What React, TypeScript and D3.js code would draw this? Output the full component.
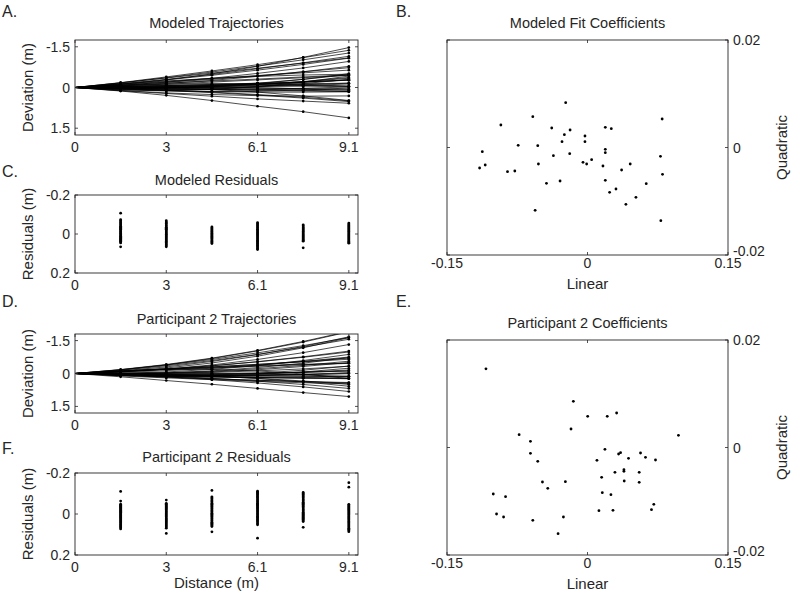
import React from 'react';
import * as d3 from 'd3';

// distances along the path (m) and axis ticks
const distances = [1.524, 3.048, 4.572, 6.096, 7.62, 9.144];
const distanceTicks = [0, 3.048, 6.096, 9.144];
const distanceTickLabels = ['0', '3', '6.1', '9.1'];
const deviationTicks = [-1.5, 0, 1.5];
const deviationTickLabels = ['-1.5', '0', '1.5'];
const residualTicks = [-0.2, 0, 0.2];
const residualTickLabels = ['-0.2', '0', '0.2'];
const linearTicks = [-0.15, 0, 0.15];
const linearTickLabels = ['-0.15', '0', '0.15'];
const quadraticTicks = [0.02, 0, -0.02];
const quadraticTickLabels = ['0.02', '0', '-0.02'];

// B. modeled fit coefficients
const modeledLinear = [-0.1152, -0.1123, -0.1092, -0.0925, -0.0854, -0.0776, -0.074, -0.0584, -0.0559, -0.0531, -0.0524, -0.0438, -0.0382, -0.0364, -0.0293, -0.0272, -0.0247, -0.0233, -0.019, -0.0186, -0.0048, -0.0027, -0.0027, -0.0009, 0.0044, 0.0165, 0.019, 0.019, 0.019, 0.019, 0.0236, 0.0254, 0.0304, 0.0364, 0.041, 0.0456, 0.0517, 0.0627, 0.0779, 0.0783, 0.0797, 0.0801];
const modeledQuadratic = [-0.00381, -0.00078, -0.00326, 0.00419, -0.0045, -0.00437, 0.0004, 0.00574, -0.01169, 0.00034, -0.00307, -0.00667, 0.00363, -0.00152, -0.00623, 0.00109, 0.00239, 0.00834, -0.00115, 0.00326, -0.00276, 0.00214, 0.00109, -0.00307, -0.00226, -0.00344, -0.00034, -0.00096, -0.00611, 0.00375, -0.00834, 0.0035, -0.00772, -0.00419, -0.01057, -0.00307, -0.00927, -0.00673, -0.00164, -0.01361, 0.0053, -0.00499];

// E. participant 2 coefficients
const p2Linear = [-0.1084, -0.1006, -0.0971, -0.0896, -0.0875, -0.073, -0.0609, -0.0609, -0.0584, -0.0531, -0.0481, -0.0424, -0.0314, -0.0257, -0.0236, -0.0176, -0.0151, 0.0002, 0.0101, 0.0122, 0.0151, 0.0158, 0.0186, 0.0211, 0.025, 0.0272, 0.0293, 0.0311, 0.0332, 0.0353, 0.0389, 0.0389, 0.0392, 0.0438, 0.0552, 0.0552, 0.0566, 0.0619, 0.0683, 0.0708, 0.0726, 0.0971];
const p2Quadratic = [0.01464, -0.00865, -0.01237, -0.01293, -0.00915, 0.00239, 0.00115, -0.00109, -0.01355, -0.00257, -0.00642, -0.0076, -0.01603, -0.01293, -0.00636, 0.00344, 0.00859, 0.0058, -0.00239, -0.01175, -0.00555, -0.0084, -0.00034, 0.0058, -0.00878, -0.01169, -0.00462, 0.00642, -0.00121, -0.00096, -0.00412, -0.00443, -0.00623, -0.00202, -0.00462, -0.00648, -0.00102, -0.00183, -0.01156, -0.01057, -0.00233, 0.00227];

// A. modeled trajectories, deviation (m) at each distance
const modeledTrajectories = [
  [-0.18, -0.39, -0.61, -0.84, -1.1, -1.37],
  [-0.17, -0.35, -0.53, -0.71, -0.9, -1.09],
  [-0.17, -0.36, -0.57, -0.79, -1.02, -1.27],
  [-0.13, -0.24, -0.34, -0.41, -0.46, -0.49],
  [-0.14, -0.3, -0.48, -0.69, -0.91, -1.15],
  [-0.13, -0.28, -0.45, -0.64, -0.85, -1.08],
  [-0.11, -0.22, -0.33, -0.44, -0.54, -0.64],
  [-0.08, -0.12, -0.15, -0.14, -0.11, -0.05],
  [-0.11, -0.28, -0.5, -0.78, -1.11, -1.47],
  [-0.08, -0.16, -0.24, -0.31, -0.39, -0.46],
  [-0.09, -0.19, -0.3, -0.43, -0.58, -0.73],
  [-0.08, -0.2, -0.34, -0.52, -0.72, -0.96],
  [-0.05, -0.08, -0.1, -0.1, -0.08, -0.05],
  [-0.06, -0.12, -0.2, -0.28, -0.36, -0.45],
  [-0.06, -0.15, -0.26, -0.41, -0.58, -0.78],
  [-0.04, -0.07, -0.1, -0.12, -0.14, -0.16],
  [-0.03, -0.05, -0.06, -0.06, -0.05, -0.03],
  [-0.02, 0.01, 0.07, 0.17, 0.31, 0.48],
  [-0.03, -0.07, -0.11, -0.16, -0.21, -0.27],
  [-0.02, -0.03, -0.02, 0.01, 0.05, 0.1],
  [-0.01, -0.04, -0.08, -0.14, -0.2, -0.28],
  [0.0, 0.01, 0.03, 0.06, 0.1, 0.15],
  [0.0, 0.0, 0.01, 0.02, 0.04, 0.06],
  [-0.01, -0.03, -0.07, -0.12, -0.19, -0.27],
  [0.0, -0.01, -0.03, -0.06, -0.1, -0.16],
  [0.02, 0.02, 0.0, -0.03, -0.07, -0.13],
  [0.03, 0.05, 0.08, 0.11, 0.13, 0.15],
  [0.03, 0.05, 0.07, 0.08, 0.09, 0.09],
  [0.01, 0.0, -0.04, -0.11, -0.21, -0.34],
  [0.04, 0.09, 0.17, 0.26, 0.36, 0.49],
  [0.02, 0.0, -0.06, -0.16, -0.3, -0.47],
  [0.05, 0.11, 0.19, 0.28, 0.39, 0.52],
  [0.03, 0.02, -0.02, -0.1, -0.22, -0.37],
  [0.05, 0.07, 0.08, 0.06, 0.03, -0.02],
  [0.04, 0.03, -0.03, -0.14, -0.3, -0.51],
  [0.06, 0.11, 0.15, 0.17, 0.17, 0.16],
  [0.06, 0.07, 0.04, -0.03, -0.14, -0.3],
  [0.08, 0.13, 0.15, 0.14, 0.09, 0.02],
  [0.12, 0.22, 0.32, 0.42, 0.5, 0.58],
  [0.09, 0.11, 0.07, -0.03, -0.2, -0.42],
  [0.13, 0.29, 0.48, 0.69, 0.89, 1.12],
  [0.11, 0.2, 0.26, 0.3, 0.32, 0.31],
];

// D. participant 2 trajectories
const p2Trajectories = [
  [-0.13, -0.19, -0.19, -0.12, 0.02, 0.23],
  [-0.17, -0.39, -0.64, -0.94, -1.27, -1.64],
  [-0.18, -0.41, -0.7, -1.05, -1.46, -1.92],
  [-0.17, -0.39, -0.68, -1.03, -1.43, -1.9],
  [-0.15, -0.35, -0.59, -0.87, -1.2, -1.56],
  [-0.11, -0.2, -0.28, -0.36, -0.42, -0.47],
  [-0.09, -0.18, -0.25, -0.33, -0.4, -0.46],
  [-0.1, -0.2, -0.3, -0.41, -0.53, -0.65],
  [-0.12, -0.3, -0.55, -0.86, -1.23, -1.67],
  [-0.09, -0.19, -0.3, -0.42, -0.55, -0.7],
  [-0.09, -0.21, -0.35, -0.53, -0.74, -0.98],
  [-0.08, -0.2, -0.35, -0.54, -0.76, -1.02],
  [-0.09, -0.25, -0.48, -0.79, -1.17, -1.63],
  [-0.07, -0.2, -0.39, -0.64, -0.95, -1.32],
  [-0.05, -0.13, -0.24, -0.38, -0.55, -0.75],
  [-0.02, -0.02, -0.01, 0.02, 0.07, 0.13],
  [0.0, 0.03, 0.11, 0.23, 0.38, 0.58],
  [0.01, 0.05, 0.12, 0.22, 0.34, 0.49],
  [0.01, 0.01, 0.0, -0.03, -0.06, -0.11],
  [-0.01, -0.07, -0.19, -0.36, -0.59, -0.87],
  [0.01, -0.01, -0.05, -0.12, -0.21, -0.33],
  [0.0, -0.03, -0.1, -0.22, -0.37, -0.56],
  [0.03, 0.05, 0.08, 0.1, 0.12, 0.14],
  [0.05, 0.12, 0.22, 0.35, 0.5, 0.68],
  [0.02, -0.01, -0.07, -0.17, -0.32, -0.5],
  [0.01, -0.03, -0.12, -0.27, -0.47, -0.73],
  [0.03, 0.05, 0.04, 0.01, -0.05, -0.12],
  [0.06, 0.15, 0.28, 0.43, 0.61, 0.82],
  [0.05, 0.09, 0.13, 0.16, 0.18, 0.2],
  [0.05, 0.1, 0.14, 0.18, 0.21, 0.24],
  [0.05, 0.08, 0.09, 0.08, 0.06, 0.01],
  [0.05, 0.08, 0.09, 0.07, 0.04, -0.01],
  [0.05, 0.06, 0.05, 0.01, -0.06, -0.16],
  [0.06, 0.12, 0.16, 0.19, 0.22, 0.23],
  [0.07, 0.13, 0.16, 0.17, 0.15, 0.12],
  [0.07, 0.11, 0.12, 0.1, 0.04, -0.04],
  [0.08, 0.16, 0.24, 0.31, 0.37, 0.43],
  [0.09, 0.17, 0.24, 0.31, 0.37, 0.41],
  [0.08, 0.1, 0.07, -0.01, -0.15, -0.34],
  [0.08, 0.12, 0.1, 0.04, -0.07, -0.24],
  [0.11, 0.2, 0.28, 0.36, 0.42, 0.47],
  [0.15, 0.32, 0.49, 0.68, 0.87, 1.05],
];

// C. modeled residuals, one list per distance
const modeledResiduals = [
  [-0.107, -0.073, -0.068, -0.062, -0.057, -0.051, -0.046, -0.04, -0.035, -0.03, -0.025, -0.02, -0.015, -0.011, -0.006, -0.002, 0.003, 0.008, 0.012, 0.017, 0.022, 0.027, 0.032, 0.037, 0.041, 0.046, 0.066],
  [-0.068, -0.062, -0.057, -0.052, -0.046, -0.041, -0.035, -0.03, -0.025, -0.02, -0.015, -0.01, -0.005, 0.0, 0.004, 0.009, 0.014, 0.019, 0.024, 0.029, 0.034, 0.039, 0.044, 0.05, 0.055, 0.06, 0.066],
  [-0.036, -0.031, -0.026, -0.021, -0.016, -0.011, -0.006, -0.002, 0.003, 0.008, 0.013, 0.018, 0.023, 0.029, 0.034, 0.039, 0.044, 0.049],
  [-0.058, -0.053, -0.047, -0.042, -0.036, -0.031, -0.025, -0.02, -0.015, -0.01, -0.005, 0.0, 0.005, 0.01, 0.016, 0.021, 0.026, 0.032, 0.037, 0.043, 0.048, 0.054, 0.059, 0.064, 0.07, 0.075, 0.08],
  [-0.047, -0.042, -0.036, -0.031, -0.026, -0.021, -0.016, -0.011, -0.006, -0.001, 0.004, 0.009, 0.014, 0.019, 0.024, 0.029, 0.033, 0.037, 0.071],
  [-0.056, -0.051, -0.046, -0.041, -0.036, -0.031, -0.026, -0.021, -0.016, -0.011, -0.006, -0.001, 0.004, 0.009, 0.014, 0.019, 0.024, 0.029, 0.034, 0.039, 0.043, 0.047],
];

// F. participant 2 residuals
const p2Residuals = [
  [-0.11, -0.063, -0.048, -0.043, -0.038, -0.033, -0.028, -0.023, -0.018, -0.013, -0.008, -0.003, 0.002, 0.007, 0.012, 0.017, 0.022, 0.027, 0.032, 0.037, 0.042, 0.047, 0.052, 0.057, 0.062, 0.067, 0.073],
  [-0.068, -0.052, -0.047, -0.042, -0.037, -0.032, -0.027, -0.022, -0.016, -0.011, -0.006, -0.001, 0.004, 0.009, 0.014, 0.019, 0.024, 0.029, 0.034, 0.039, 0.044, 0.049, 0.054, 0.059, 0.064, 0.069, 0.095],
  [-0.115, -0.084, -0.079, -0.074, -0.068, -0.063, -0.058, -0.052, -0.047, -0.042, -0.036, -0.031, -0.026, -0.02, -0.015, -0.01, -0.004, 0.001, 0.007, 0.012, 0.018, 0.023, 0.029, 0.034, 0.04, 0.045, 0.05, 0.056, 0.061, 0.087],
  [-0.111, -0.106, -0.101, -0.096, -0.09, -0.085, -0.08, -0.075, -0.069, -0.064, -0.059, -0.053, -0.048, -0.043, -0.037, -0.032, -0.027, -0.021, -0.016, -0.011, -0.005, 0.0, 0.005, 0.011, 0.016, 0.022, 0.027, 0.032, 0.037, 0.043, 0.048, 0.053, 0.118],
  [-0.105, -0.1, -0.095, -0.089, -0.084, -0.079, -0.073, -0.068, -0.063, -0.057, -0.052, -0.047, -0.041, -0.036, -0.031, -0.025, -0.02, -0.015, -0.009, -0.004, 0.001, 0.006, 0.011, 0.016, 0.021, 0.026, 0.032, 0.037, 0.065],
  [-0.153, -0.131, -0.047, -0.042, -0.037, -0.032, -0.027, -0.022, -0.017, -0.012, -0.007, -0.002, 0.003, 0.008, 0.013, 0.018, 0.023, 0.028, 0.034, 0.039, 0.044, 0.049, 0.054, 0.059, 0.064, 0.069, 0.074, 0.08, 0.086],
];

const FONT = '"Liberation Sans", Arial, Helvetica, sans-serif';
const INK = '#262626';

type Box = { x0: number; y0: number; x1: number; y1: number };

// box with inward ticks on all four sides, MATLAB style
const Frame = ({ box, x, y, xTicks, xLabels, yTicks, yLabels, xLabelDy, yLabelDy, yRight }: any) => (
  <g>
    <rect x={box.x0} y={box.y0} width={box.x1 - box.x0} height={box.y1 - box.y0} fill="none" stroke={INK} strokeWidth={0.9} />
    {xTicks.map((t: number, i: number) => (
      <g key={'x' + i}>
        <line x1={x(t)} x2={x(t)} y1={box.y1} y2={box.y1 - 3} stroke={INK} strokeWidth={0.8} />
        <line x1={x(t)} x2={x(t)} y1={box.y0} y2={box.y0 + 3} stroke={INK} strokeWidth={0.8} />
        <text x={x(t)} y={box.y1 + xLabelDy} textAnchor="middle" fontSize={14} fill={INK}>{xLabels[i]}</text>
      </g>
    ))}
    {yTicks.map((t: number, i: number) => (
      <g key={'y' + i}>
        <line x1={box.x0} x2={box.x0 + 3} y1={y(t)} y2={y(t)} stroke={INK} strokeWidth={0.8} />
        <line x1={box.x1} x2={box.x1 - 3} y1={y(t)} y2={y(t)} stroke={INK} strokeWidth={0.8} />
        <text
          x={yRight ? box.x1 + 5 : box.x0 - 5}
          y={y(t) + (yLabelDy ? yLabelDy[i] : 5)}
          textAnchor={yRight ? 'start' : 'end'}
          fontSize={14}
          fill={INK}
        >
          {yLabels[i]}
        </text>
      </g>
    ))}
  </g>
);

const PanelText = ({ letter, lx, ly, title, box, ty }: any) => (
  <g fill={INK}>
    <text x={lx} y={ly} fontSize={16}>{letter}</text>
    <text x={(box.x0 + box.x1) / 2} y={ty} textAnchor="middle" fontSize={14.5}>{title}</text>
  </g>
);

const YTitle = ({ x, y, label }: any) => (
  <text transform={`translate(${x},${y}) rotate(-90)`} textAnchor="middle" fontSize={15} fill={INK}>{label}</text>
);

const TrajectoryPanel = ({ id, box, data, ydomain }: { id: string; box: Box; data: number[][]; ydomain: number[] }) => {
  const x = d3.scaleLinear().domain([0, 9.45]).range([box.x0, box.x1]);
  const y = d3.scaleLinear().domain(ydomain).range([box.y0, box.y1]);
  const line = d3.line<[number, number]>().x(d => x(d[0])).y(d => y(d[1]));
  return (
    <g>
      <defs>
        <clipPath id={id}>
          <rect x={box.x0} y={box.y0} width={box.x1 - box.x0} height={box.y1 - box.y0} />
        </clipPath>
      </defs>
      <g clipPath={`url(#${id})`}>
        {data.map((traj, i) => (
          <path key={i} d={line([[0, 0], ...traj.map((v, j) => [distances[j], v] as [number, number])]) || ''} fill="none" stroke="#000" strokeWidth={0.7} />
        ))}
        {data.map((traj, i) => traj.map((v, j) => (
          <circle key={i + '-' + j} cx={x(distances[j])} cy={y(v)} r={1.35} fill="#000" />
        )))}
      </g>
      <Frame box={box} x={x} y={y} xTicks={distanceTicks} xLabels={distanceTickLabels} yTicks={deviationTicks} yLabels={deviationTickLabels} xLabelDy={17} />
      <YTitle x={33} y={(box.y0 + box.y1) / 2} label="Deviation (m)" />
    </g>
  );
};

const ResidualPanel = ({ box, data }: { box: Box; data: number[][] }) => {
  const x = d3.scaleLinear().domain([0, 9.45]).range([box.x0, box.x1]);
  const y = d3.scaleLinear().domain([-0.2, 0.2]).range([box.y0, box.y1]);
  return (
    <g>
      {data.map((col, j) => col.map((v, k) => (
        <circle key={j + '-' + k} cx={x(distances[j])} cy={y(v)} r={1.4} fill="#000" />
      )))}
      <Frame box={box} x={x} y={y} xTicks={distanceTicks} xLabels={distanceTickLabels} yTicks={residualTicks} yLabels={residualTickLabels} xLabelDy={17} />
      <YTitle x={33} y={(box.y0 + box.y1) / 2} label="Residuals (m)" />
    </g>
  );
};

const CoefficientPanel = ({ box, lin, quad }: { box: Box; lin: number[]; quad: number[] }) => {
  const x = d3.scaleLinear().domain([-0.15, 0.15]).range([box.x0, box.x1]);
  const y = d3.scaleLinear().domain([-0.02, 0.02]).range([box.y1, box.y0]);
  return (
    <g>
      {lin.map((v, i) => (
        <circle key={i} cx={x(v)} cy={y(quad[i])} r={1.4} fill="#000" />
      ))}
      <Frame box={box} x={x} y={y} xTicks={linearTicks} xLabels={linearTickLabels} yTicks={quadraticTicks} yLabels={quadraticTickLabels} yLabelDy={[5, 5, 1]} xLabelDy={13} yRight />
      <text x={(box.x0 + box.x1) / 2} y={box.y1 + 34} textAnchor="middle" fontSize={15} fill={INK}>Linear</text>
      <YTitle x={787} y={(box.y0 + box.y1) / 2} label="Quadratic" />
    </g>
  );
};

const boxA = { x0: 75, y0: 40, x1: 358, y1: 135 };
const boxC = { x0: 75, y0: 195, x1: 358, y1: 273 };
const boxD = { x0: 75, y0: 334, x1: 358, y1: 413 };
const boxF = { x0: 75, y0: 473, x1: 358, y1: 555 };
const boxB = { x0: 447, y0: 40, x1: 728, y1: 255 };
const boxE = { x0: 447, y0: 340, x1: 728, y1: 555 };

export default function App() {
  return (
    <svg width={800} height={597} style={{ position: 'absolute', left: 0, top: 0, background: '#fff' }} fontFamily={FONT}>
      <rect width={800} height={597} fill="#fff" />
      <TrajectoryPanel id="clipA" box={boxA} data={modeledTrajectories} ydomain={[-1.75, 1.75]} />
      <PanelText letter="A." lx={2} ly={17} title="Modeled Trajectories" box={boxA} ty={28} />
      <ResidualPanel box={boxC} data={modeledResiduals} />
      <PanelText letter="C." lx={2} ly={177} title="Modeled Residuals" box={boxC} ty={185} />
      <TrajectoryPanel id="clipD" box={boxD} data={p2Trajectories} ydomain={[-1.8, 1.8]} />
      <PanelText letter="D." lx={2} ly={307} title="Participant 2 Trajectories" box={boxD} ty={324} />
      <ResidualPanel box={boxF} data={p2Residuals} />
      <PanelText letter="F." lx={2} ly={454} title="Participant 2 Residuals" box={boxF} ty={462} />
      <text x={(boxF.x0 + boxF.x1) / 2} y={588} textAnchor="middle" fontSize={15} fill={INK}>Distance (m)</text>
      <CoefficientPanel box={boxB} lin={modeledLinear} quad={modeledQuadratic} />
      <PanelText letter="B." lx={396} ly={17} title="Modeled Fit Coefficients" box={boxB} ty={28} />
      <CoefficientPanel box={boxE} lin={p2Linear} quad={p2Quadratic} />
      <PanelText letter="E." lx={396} ly={307} title="Participant 2 Coefficients" box={boxE} ty={328} />
    </svg>
  );
}
